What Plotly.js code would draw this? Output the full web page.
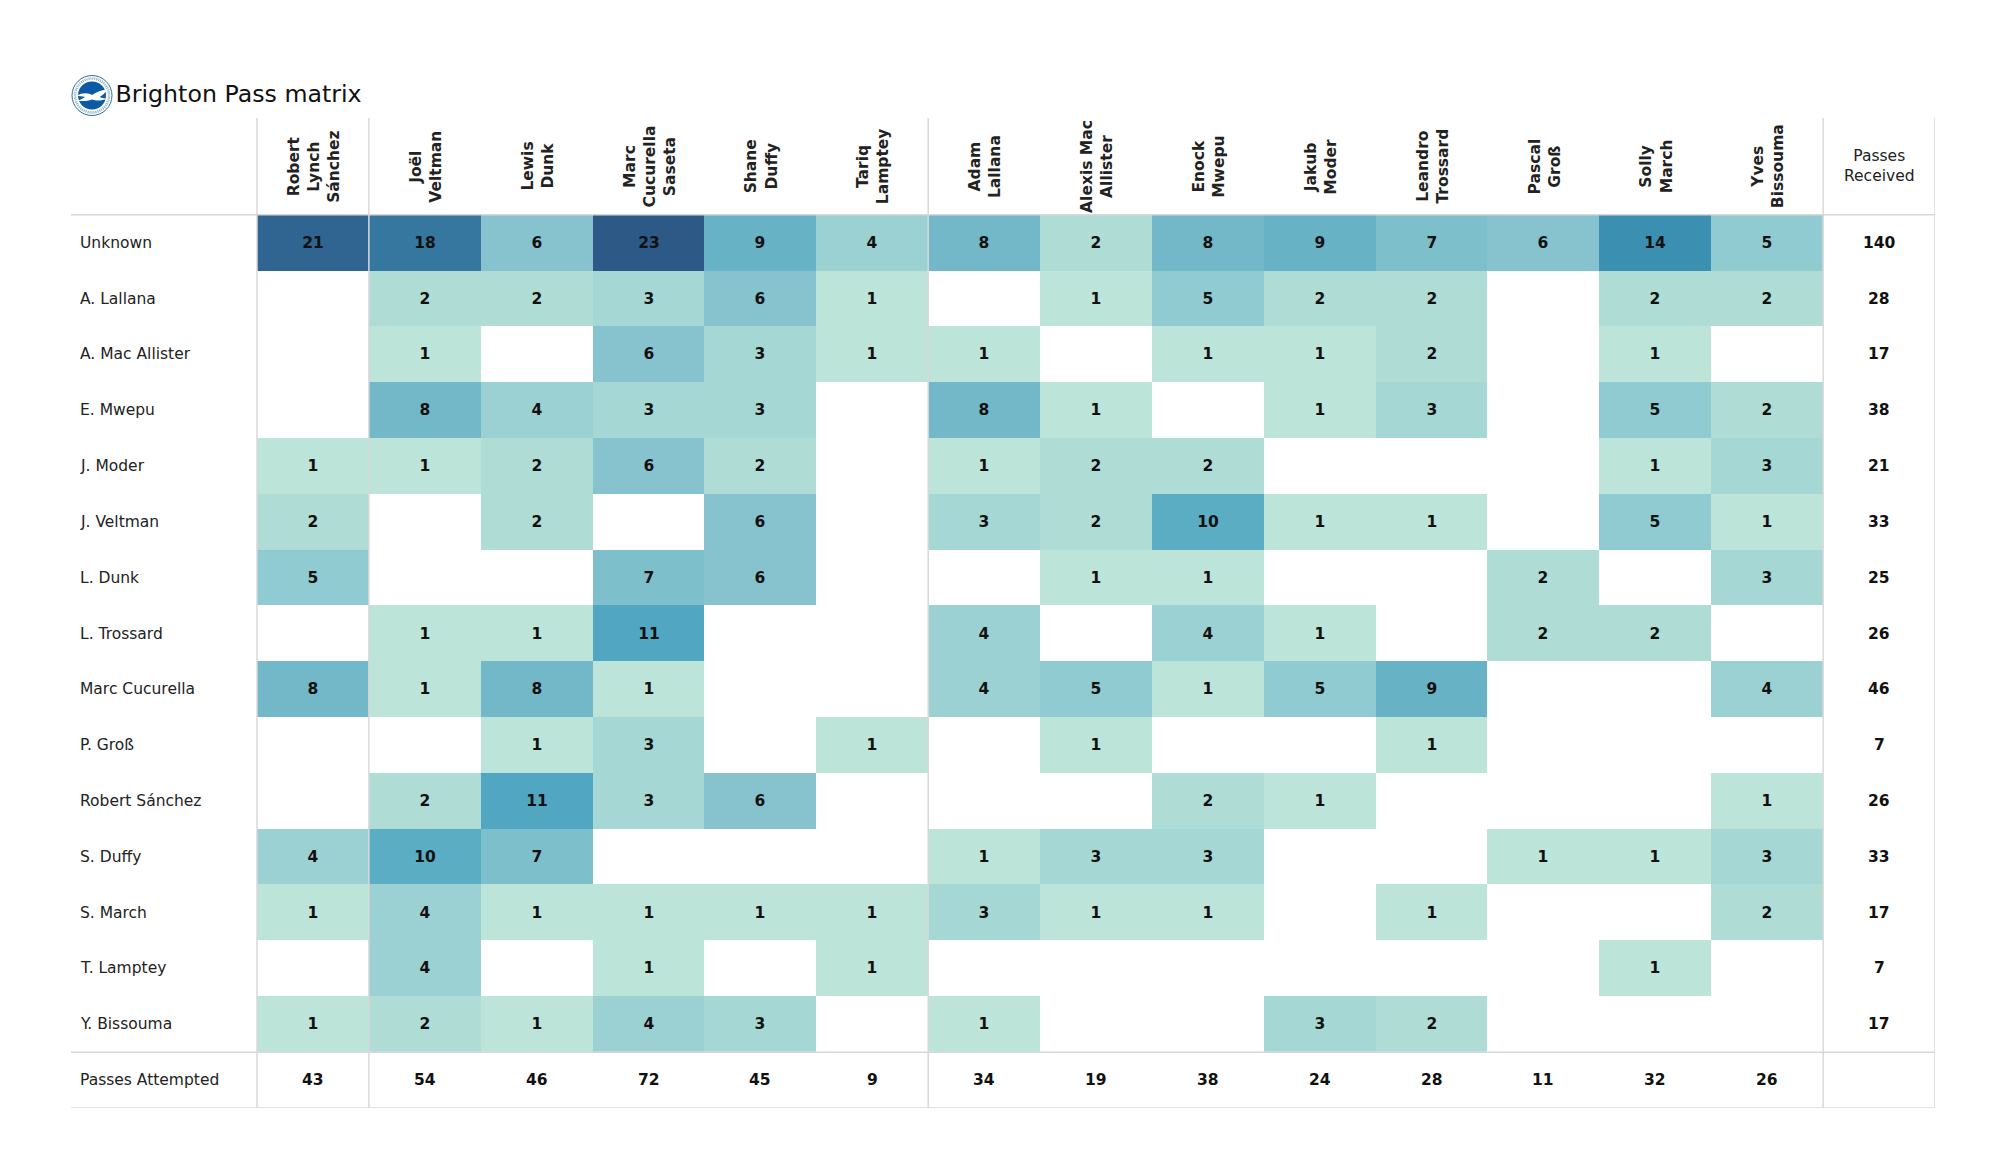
<!DOCTYPE html>
<html>
<head>
<meta charset="utf-8">
<script src="https://cdn.plot.ly/plotly-3.0.1.min.js"></script>
<style>html, body {margin: 0; padding: 0; background: #fff;}</style>
</head>
<body>
<div id="plotArea" style="width:2000px;height:1175px;"></div>
<script>
//Column and row names
var receiverNames = ["Robert<br>Lynch<br>Sánchez", "Joël<br>Veltman", "Lewis<br>Dunk", "Marc<br>Cucurella<br>Saseta", "Shane<br>Duffy", "Tariq<br>Lamptey", "Adam<br>Lallana", "Alexis Mac<br>Allister", "Enock<br>Mwepu", "Jakub<br>Moder", "Leandro<br>Trossard", "Pascal<br>Groß", "Solly<br>March", "Yves<br>Bissouma"];
var passerNames = ["Unknown", "A. Lallana", "A. Mac Allister", "E. Mwepu", "J. Moder", "J. Veltman", "L. Dunk", "L. Trossard", "Marc Cucurella", "P. Groß", "Robert Sánchez", "S. Duffy", "S. March", "T. Lamptey", "Y. Bissouma"];

//Pass counts, one array per row, null is an empty cell
var unknownRow = [21, 18, 6, 23, 9, 4, 8, 2, 8, 9, 7, 6, 14, 5];
var lallanaRow = [null, 2, 2, 3, 6, 1, null, 1, 5, 2, 2, null, 2, 2];
var macAllisterRow = [null, 1, null, 6, 3, 1, 1, null, 1, 1, 2, null, 1, null];
var mwepuRow = [null, 8, 4, 3, 3, null, 8, 1, null, 1, 3, null, 5, 2];
var moderRow = [1, 1, 2, 6, 2, null, 1, 2, 2, null, null, null, 1, 3];
var veltmanRow = [2, null, 2, null, 6, null, 3, 2, 10, 1, 1, null, 5, 1];
var dunkRow = [5, null, null, 7, 6, null, null, 1, 1, null, null, 2, null, 3];
var trossardRow = [null, 1, 1, 11, null, null, 4, null, 4, 1, null, 2, 2, null];
var cucurellaRow = [8, 1, 8, 1, null, null, 4, 5, 1, 5, 9, null, null, 4];
var grossRow = [null, null, 1, 3, null, 1, null, 1, null, null, 1, null, null, null];
var sanchezRow = [null, 2, 11, 3, 6, null, null, null, 2, 1, null, null, null, 1];
var duffyRow = [4, 10, 7, null, null, null, 1, 3, 3, null, null, 1, 1, 3];
var marchRow = [1, 4, 1, 1, 1, 1, 3, 1, 1, null, 1, null, null, 2];
var lampteyRow = [null, 4, null, 1, null, 1, null, null, null, null, null, null, 1, null];
var bissoumaRow = [1, 2, 1, 4, 3, null, 1, null, null, 3, 2, null, null, null];

var passesReceived = [140, 28, 17, 38, 21, 33, 25, 26, 46, 7, 26, 33, 17, 7, 17];
var passesAttempted = [43, 54, 46, 72, 45, 9, 34, 19, 38, 24, 28, 11, 32, 26];

var matrix = [unknownRow, lallanaRow, macAllisterRow, mwepuRow, moderRow, veltmanRow, dunkRow, trossardRow, cucurellaRow, grossRow, sanchezRow, duffyRow, marchRow, lampteyRow, bissoumaRow];

var fontName = "DejaVu Sans, sans-serif";
var lineColor = "#d8d8d8";

//Axes run in cell units, the label column and header row sit outside the cells
var nCols = receiverNames.length;
var nRows = passerNames.length;
var labelWidth = 186 / 111.86;
var headerHeight = 97 / 55.9;
var colIndex = receiverNames.map((name, i) => i);
var rowIndex = passerNames.map((name, i) => i);

var trace = {
  type: "heatmap",
  x: colIndex,
  y: rowIndex,
  z: matrix,
  zmin: 1,
  zmax: 23,
  showscale: false,
  hoverongaps: false,
  colorscale: [
    [0, "#bce4d9"], [0.045, "#afddd6"], [0.091, "#a5d7d4"], [0.136, "#9bd1d2"],
    [0.182, "#8fcbd0"], [0.227, "#87c3ce"], [0.273, "#7dbfca"], [0.318, "#72b8c8"],
    [0.364, "#68b2c5"], [0.409, "#5badc3"], [0.455, "#51a7c1"], [0.591, "#3b8fb0"],
    [0.773, "#35779f"], [0.909, "#2f6590"], [1, "#2c5985"]
  ],
  texttemplate: "<b>%{z}</b>",
  textfont: {family: fontName, size: 15.5, color: "#111"}
};

//Row names, column names and totals are annotations
var annotations = [];
passerNames.forEach(function (name, i) {
  annotations.push({x: -0.5 - labelWidth, y: i, text: name, xanchor: "left", xshift: 7, showarrow: false, font: {family: fontName, size: 15.5, color: "#222"}});
  annotations.push({x: nCols, y: i, text: "<b>" + passesReceived[i] + "</b>", showarrow: false, font: {family: fontName, size: 15.5, color: "#111"}});
});
receiverNames.forEach(function (name, i) {
  annotations.push({x: i, y: -0.5 - headerHeight / 2, text: "<b>" + name + "</b>", textangle: -90, xshift: 1.5, showarrow: false, font: {family: fontName, size: 15.5, color: "#222"}});
  annotations.push({x: i, y: nRows, text: "<b>" + passesAttempted[i] + "</b>", showarrow: false, font: {family: fontName, size: 15.5, color: "#111"}});
});
annotations.push({x: -0.5 - labelWidth, y: nRows, text: "Passes Attempted", xanchor: "left", xshift: 7, showarrow: false, font: {family: fontName, size: 15.5, color: "#222"}});
annotations.push({x: nCols, y: -0.5 - headerHeight / 2, text: "Passes<br>Received", showarrow: false, font: {family: fontName, size: 15.5, color: "#222"}});

//Table rules
var shapes = [];
[-0.5, 0.5, 5.5, nCols - 0.5, nCols + 0.5].forEach(function (x) {
  shapes.push({type: "line", xref: "x", yref: "y", x0: x, x1: x, y0: -0.5 - headerHeight, y1: nRows + 0.5, line: {color: lineColor, width: 1.5}});
});
[-0.5, nRows - 0.5, nRows + 0.5].forEach(function (y) {
  shapes.push({type: "line", xref: "x", yref: "y", x0: -0.5 - labelWidth, x1: nCols + 0.5, y0: y, y1: y, line: {color: lineColor, width: 1.5}});
});

var badge = '<svg xmlns="http://www.w3.org/2000/svg" viewBox="0 0 84 84">' +
  '<circle cx="42" cy="42" r="40" fill="#fff" stroke="#2a6f96" stroke-width="2"/>' +
  '<circle cx="42" cy="42" r="34" fill="none" stroke="#86a9bf" stroke-width="5" stroke-dasharray="2 2"/>' +
  '<circle cx="42" cy="42" r="28" fill="#0b5aa5"/>' +
  '<path d="M10 43 C24 35 36 37 42 41 C50 35 62 31 74 29 C68 37 63 42 57 45 C63 47 68 48 74 48 C60 53 50 53 42 50 C34 54 22 53 12 53 C20 50 26 47 28 45 C23 43 16 43 10 43 Z" fill="#fff"/>' +
  '</svg>';

var layout = {
  width: 2000,
  height: 1175,
  margin: {l: 71, r: 65, t: 117.5, b: 67, pad: 0},
  paper_bgcolor: "#fff",
  plot_bgcolor: "#fff",
  font: {family: fontName},
  title: {text: "Brighton Pass matrix", x: 115.5 / 2000, xanchor: "left", y: 1 - 94 / 1175, yanchor: "middle", font: {family: fontName, size: 23.7, color: "#111"}},
  xaxis: {range: [-0.5 - labelWidth, nCols + 0.5], showgrid: false, zeroline: false, showticklabels: false, ticks: ""},
  yaxis: {range: [nRows + 0.5, -0.5 - headerHeight], showgrid: false, zeroline: false, showticklabels: false, ticks: ""},
  annotations: annotations,
  shapes: shapes,
  images: [{source: "data:image/svg+xml;utf8," + encodeURIComponent(badge), xref: "paper", yref: "paper", x: 0, y: 1 + (117.5 - 74) / 990.5, sizex: 42 / 1864, sizey: 42 / 990.5, xanchor: "left", yanchor: "top", layer: "above"}]
};

Plotly.newPlot("plotArea", [trace], layout, {displayModeBar: false});
</script>
</body>
</html>
